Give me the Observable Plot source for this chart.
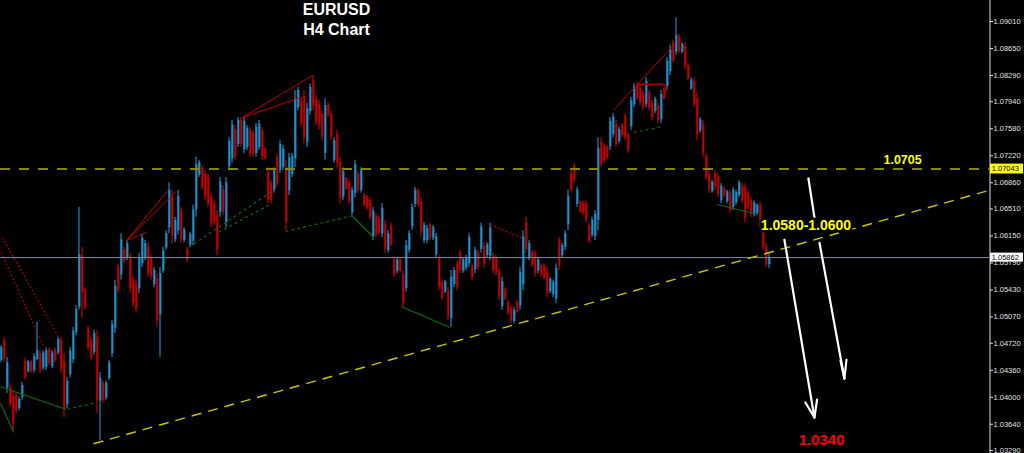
<!DOCTYPE html>
<html><head><meta charset="utf-8">
<script src="https://cdn.jsdelivr.net/npm/d3@7"></script>
<script src="https://cdn.jsdelivr.net/npm/@observablehq/plot@0.6"></script>
<style>html,body{margin:0;padding:0;background:#000;overflow:hidden}</style>
</head><body><div id="chart"></div>
<script>
// EURUSD H4 candles: [open, high, low, close]
const ohlc = [
[1.0449,1.0469,1.0446,1.0466],[1.0475,1.0480,1.0446,1.0451],[1.0412,1.0453,1.0405,1.0446],[1.0413,1.0418,1.0386,1.0391],
[1.0401,1.0409,1.0356,1.0364],[1.0402,1.0406,1.0378,1.0382],[1.0385,1.0400,1.0382,1.0397],[1.0400,1.0420,1.0396,1.0416],
[1.0448,1.0452,1.0422,1.0426],[1.0434,1.0449,1.0432,1.0447],[1.0447,1.0449,1.0432,1.0434],[1.0436,1.0458,1.0432,1.0454],
[1.0450,1.0500,1.0449,1.0462],[1.0458,1.0462,1.0432,1.0436],[1.0439,1.0462,1.0436,1.0459],[1.0440,1.0466,1.0436,1.0462],
[1.0463,1.0466,1.0442,1.0445],[1.0441,1.0462,1.0438,1.0459],[1.0463,1.0466,1.0446,1.0449],[1.0459,1.0480,1.0456,1.0477],
[1.0476,1.0480,1.0432,1.0437],[1.0448,1.0458,1.0373,1.0383],[1.0390,1.0426,1.0385,1.0421],[1.0430,1.0466,1.0426,1.0461],
[1.0450,1.0493,1.0445,1.0488],[1.0486,1.0522,1.0482,1.0517],[1.0520,1.0653,1.0516,1.0590],[1.0588,1.0600,1.0505,1.0540],
[1.0543,1.0546,1.0516,1.0520],[1.0490,1.0495,1.0462,1.0466],[1.0476,1.0480,1.0449,1.0453],[1.0460,1.0489,1.0456,1.0485],
[1.0480,1.0489,1.0378,1.0395],[1.0395,1.0433,1.0342,1.0425],[1.0418,1.0422,1.0392,1.0396],[1.0399,1.0422,1.0396,1.0419],
[1.0425,1.0449,1.0422,1.0446],[1.0458,1.0502,1.0453,1.0497],[1.0492,1.0556,1.0485,1.0548],[1.0574,1.0578,1.0538,1.0542],
[1.0563,1.0618,1.0556,1.0610],[1.0597,1.0600,1.0578,1.0581],[1.0586,1.0609,1.0582,1.0605],[1.0588,1.0592,1.0538,1.0545],
[1.0555,1.0560,1.0520,1.0525],[1.0550,1.0556,1.0512,1.0518],[1.0545,1.0592,1.0538,1.0586],[1.0578,1.0618,1.0573,1.0612],
[1.0586,1.0609,1.0582,1.0605],[1.0600,1.0606,1.0560,1.0565],[1.0585,1.0589,1.0556,1.0560],[1.0550,1.0573,1.0546,1.0569],
[1.0558,1.0565,1.0493,1.0502],[1.0510,1.0573,1.0453,1.0565],[1.0568,1.0600,1.0565,1.0595],[1.0599,1.0622,1.0596,1.0618],
[1.0626,1.0686,1.0618,1.0676],[1.0666,1.0676,1.0605,1.0615],[1.0610,1.0640,1.0606,1.0636],[1.0622,1.0676,1.0616,1.0668],
[1.0648,1.0653,1.0605,1.0610],[1.0609,1.0626,1.0606,1.0623],[1.0597,1.0600,1.0580,1.0583],[1.0603,1.0620,1.0600,1.0617],
[1.0608,1.0656,1.0602,1.0650],[1.0650,1.0720,1.0640,1.0710],[1.0696,1.0716,1.0693,1.0713],[1.0705,1.0709,1.0676,1.0680],
[1.0697,1.0702,1.0662,1.0667],[1.0693,1.0698,1.0653,1.0658],[1.0667,1.0672,1.0626,1.0631],[1.0658,1.0662,1.0629,1.0633],
[1.0642,1.0649,1.0589,1.0596],[1.0646,1.0693,1.0640,1.0687],[1.0677,1.0682,1.0642,1.0647],[1.0633,1.0693,1.0626,1.0686],
[1.0707,1.0746,1.0702,1.0741],[1.0718,1.0769,1.0712,1.0763],[1.0757,1.0762,1.0716,1.0721],[1.0737,1.0773,1.0733,1.0769],
[1.0769,1.0773,1.0733,1.0737],[1.0730,1.0773,1.0725,1.0768],[1.0733,1.0762,1.0729,1.0758],[1.0755,1.0760,1.0720,1.0725],
[1.0752,1.0756,1.0720,1.0724],[1.0725,1.0765,1.0720,1.0760],[1.0733,1.0769,1.0729,1.0764],[1.0755,1.0760,1.0716,1.0721],
[1.0731,1.0733,1.0716,1.0718],[1.0700,1.0706,1.0658,1.0663],[1.0685,1.0689,1.0658,1.0662],[1.0676,1.0706,1.0672,1.0702],
[1.0720,1.0725,1.0680,1.0685],[1.0703,1.0742,1.0698,1.0737],[1.0706,1.0736,1.0702,1.0731],[1.0706,1.0716,1.0622,1.0633],
[1.0675,1.0725,1.0669,1.0719],[1.0697,1.0725,1.0693,1.0721],[1.0718,1.0809,1.0706,1.0798],[1.0786,1.0813,1.0782,1.0809],
[1.0795,1.0800,1.0760,1.0765],[1.0801,1.0809,1.0738,1.0746],[1.0740,1.0792,1.0733,1.0785],[1.0781,1.0818,1.0776,1.0813],
[1.0822,1.0829,1.0782,1.0788],[1.0797,1.0802,1.0762,1.0767],[1.0790,1.0796,1.0756,1.0762],[1.0777,1.0782,1.0742,1.0747],
[1.0725,1.0798,1.0716,1.0789],[1.0790,1.0793,1.0773,1.0776],[1.0777,1.0782,1.0742,1.0747],[1.0716,1.0746,1.0712,1.0742],
[1.0750,1.0756,1.0706,1.0712],[1.0713,1.0720,1.0658,1.0665],[1.0667,1.0706,1.0662,1.0701],[1.0691,1.0693,1.0676,1.0678],
[1.0685,1.0689,1.0656,1.0660],[1.0646,1.0680,1.0642,1.0676],[1.0672,1.0716,1.0666,1.0710],[1.0698,1.0702,1.0672,1.0676],
[1.0676,1.0706,1.0672,1.0702],[1.0670,1.0672,1.0653,1.0656],[1.0666,1.0669,1.0649,1.0652],[1.0662,1.0666,1.0636,1.0640],
[1.0614,1.0653,1.0609,1.0648],[1.0641,1.0645,1.0613,1.0617],[1.0638,1.0642,1.0616,1.0619],[1.0618,1.0658,1.0613,1.0652],
[1.0631,1.0636,1.0592,1.0597],[1.0595,1.0622,1.0592,1.0618],[1.0628,1.0632,1.0600,1.0604],[1.0583,1.0586,1.0560,1.0563],
[1.0568,1.0586,1.0565,1.0583],[1.0583,1.0586,1.0565,1.0568],[1.0563,1.0569,1.0520,1.0526],[1.0545,1.0609,1.0540,1.0602],
[1.0596,1.0622,1.0592,1.0618],[1.0627,1.0658,1.0622,1.0653],[1.0657,1.0680,1.0653,1.0676],[1.0675,1.0678,1.0653,1.0656],
[1.0660,1.0666,1.0613,1.0620],[1.0609,1.0633,1.0605,1.0629],[1.0609,1.0629,1.0605,1.0625],[1.0629,1.0632,1.0609,1.0612],
[1.0612,1.0629,1.0609,1.0626],[1.0590,1.0618,1.0586,1.0614],[1.0584,1.0589,1.0542,1.0547],[1.0553,1.0556,1.0529,1.0532],
[1.0540,1.0556,1.0538,1.0554],[1.0541,1.0546,1.0502,1.0507],[1.0505,1.0569,1.0493,1.0560],[1.0550,1.0573,1.0546,1.0569],
[1.0577,1.0582,1.0542,1.0547],[1.0592,1.0596,1.0565,1.0569],[1.0568,1.0586,1.0565,1.0583],[1.0572,1.0589,1.0569,1.0586],
[1.0578,1.0618,1.0573,1.0613],[1.0575,1.0578,1.0556,1.0559],[1.0570,1.0600,1.0565,1.0596],[1.0592,1.0596,1.0569,1.0573],
[1.0597,1.0632,1.0592,1.0627],[1.0601,1.0606,1.0572,1.0577],[1.0589,1.0606,1.0586,1.0603],[1.0588,1.0632,1.0582,1.0626],
[1.0588,1.0592,1.0565,1.0569],[1.0585,1.0589,1.0562,1.0566],[1.0568,1.0573,1.0529,1.0534],[1.0521,1.0560,1.0516,1.0554],
[1.0544,1.0546,1.0529,1.0531],[1.0526,1.0529,1.0509,1.0512],[1.0518,1.0522,1.0498,1.0502],[1.0501,1.0520,1.0498,1.0516],
[1.0527,1.0529,1.0512,1.0514],[1.0522,1.0573,1.0516,1.0566],[1.0550,1.0622,1.0542,1.0614],[1.0633,1.0640,1.0592,1.0597],
[1.0586,1.0609,1.0582,1.0605],[1.0593,1.0596,1.0573,1.0576],[1.0591,1.0596,1.0560,1.0565],[1.0568,1.0586,1.0565,1.0583],
[1.0575,1.0578,1.0560,1.0563],[1.0575,1.0578,1.0556,1.0559],[1.0567,1.0573,1.0533,1.0538],[1.0541,1.0560,1.0538,1.0557],
[1.0537,1.0556,1.0533,1.0553],[1.0531,1.0578,1.0525,1.0572],[1.0608,1.0613,1.0569,1.0574],[1.0589,1.0605,1.0586,1.0602],
[1.0600,1.0622,1.0596,1.0618],[1.0630,1.0676,1.0622,1.0668],[1.0698,1.0702,1.0672,1.0676],[1.0708,1.0712,1.0685,1.0689],
[1.0657,1.0680,1.0653,1.0676],[1.0660,1.0662,1.0645,1.0647],[1.0659,1.0662,1.0642,1.0645],[1.0658,1.0662,1.0632,1.0636],
[1.0629,1.0632,1.0605,1.0608],[1.0616,1.0640,1.0613,1.0636],[1.0614,1.0649,1.0609,1.0644],[1.0636,1.0746,1.0622,1.0732],
[1.0740,1.0746,1.0706,1.0711],[1.0735,1.0738,1.0712,1.0715],[1.0733,1.0736,1.0716,1.0719],[1.0734,1.0773,1.0729,1.0768],
[1.0750,1.0778,1.0746,1.0774],[1.0764,1.0769,1.0733,1.0737],[1.0741,1.0760,1.0738,1.0757],[1.0762,1.0765,1.0746,1.0749],
[1.0774,1.0778,1.0742,1.0746],[1.0749,1.0752,1.0725,1.0729],[1.0761,1.0800,1.0756,1.0795],[1.0790,1.0818,1.0786,1.0814],
[1.0817,1.0820,1.0796,1.0799],[1.0812,1.0816,1.0789,1.0793],[1.0805,1.0809,1.0782,1.0786],[1.0791,1.0826,1.0786,1.0821],
[1.0805,1.0809,1.0782,1.0786],[1.0792,1.0796,1.0769,1.0773],[1.0781,1.0800,1.0778,1.0797],[1.0788,1.0792,1.0765,1.0769],
[1.0770,1.0809,1.0765,1.0804],[1.0811,1.0813,1.0796,1.0798],[1.0814,1.0853,1.0809,1.0848],[1.0834,1.0869,1.0829,1.0864],
[1.0872,1.0876,1.0845,1.0849],[1.0860,1.0906,1.0856,1.0882],[1.0880,1.0884,1.0858,1.0862],[1.0860,1.0873,1.0858,1.0870],
[1.0868,1.0873,1.0836,1.0842],[1.0842,1.0845,1.0822,1.0825],[1.0811,1.0826,1.0809,1.0823],[1.0821,1.0826,1.0786,1.0791],
[1.0798,1.0805,1.0742,1.0750],[1.0755,1.0773,1.0752,1.0770],[1.0764,1.0769,1.0720,1.0726],[1.0721,1.0725,1.0689,1.0693],
[1.0698,1.0702,1.0672,1.0676],[1.0674,1.0689,1.0672,1.0687],[1.0698,1.0702,1.0676,1.0680],[1.0694,1.0698,1.0666,1.0670],
[1.0662,1.0685,1.0658,1.0681],[1.0678,1.0680,1.0666,1.0668],[1.0661,1.0676,1.0658,1.0674],[1.0672,1.0676,1.0645,1.0649],
[1.0653,1.0680,1.0649,1.0676],[1.0659,1.0676,1.0656,1.0673],[1.0669,1.0689,1.0666,1.0686],[1.0681,1.0685,1.0658,1.0662],
[1.0679,1.0685,1.0632,1.0638],[1.0672,1.0676,1.0649,1.0653],[1.0662,1.0666,1.0640,1.0644],[1.0643,1.0662,1.0640,1.0659],
[1.0645,1.0658,1.0642,1.0656],[1.0656,1.0660,1.0626,1.0631],[1.0631,1.0636,1.0596,1.0600],[1.0600,1.0605,1.0573,1.0577],
[1.0577,1.0593,1.0572,1.0586]
];

// price-axis tick labels
const yTicks = [1.09010,1.08650,1.08290,1.07940,1.07580,1.07220,1.06860,1.06510,1.06150,1.05790,1.05430,1.05070,1.04720,1.04360,1.04000,1.03640,1.03290];

// horizontal levels
const resistanceLevel = 1.07043;
const currentPrice = 1.05862;

// trend / pattern lines: [barX1, price1, barX2, price2]
const trendLine = [[31, 1.0338, 329.7, 1.0676]];
const redLines = [
  [42, 1.0609, 55.7, 1.0675], [42, 1.0609, 58.7, 1.0675], [42, 1.0609, 48.6, 1.0620],
  [80.6, 1.0773, 104, 1.0829], [80.6, 1.0773, 100.3, 1.0800], [204.4, 1.0783, 225, 1.0872]
];
const redBox = [[212.3, 1.0812, 212.3, 1.0817], [212.3, 1.0817, 221.7, 1.0817], [221.7, 1.0817, 221.7, 1.0805]];
const redDotted = [[0.6, 1.0613, 19.4, 1.0480], [0.3, 1.0593, 14.4, 1.0467], [163.3, 1.0630, 174, 1.0612]];
const greenLines = [
  [0, 1.0414, 21.7, 1.0384], [0, 1.0392, 4.4, 1.0353], [117.2, 1.0642, 124.4, 1.0613],
  [133.6, 1.0521, 149.8, 1.0493], [238.9, 1.0657, 252.2, 1.0644]
];
const greenDotted = [
  [22.2, 1.0384, 32.2, 1.0393], [62.8, 1.0600, 90, 1.0673], [72.8, 1.0620, 90.7, 1.0659],
  [95, 1.0621, 117.2, 1.0642], [211.1, 1.0753, 220.6, 1.0761]
];
const arrows = [
  [261.3, 1.0610, 271.3, 1.0373], [268.3, 1.0393, 271.3, 1.0373], [272.2, 1.0397, 271.3, 1.0373],
  [269.3, 1.0692, 271.3, 1.0640], [273, 1.0606, 281.3, 1.0425], [280, 1.0449, 281.3, 1.0425], [282, 1.0450, 281.3, 1.0425]
];

// text annotations
const titles = [{t: "EURUSD", x: 112, y: 1.0917}, {t: "H4 Chart", x: 112, y: 1.08897}];
const yellowNotes = [{t: "1.0705", x: 300.7, y: 1.07163, s: 12.5}, {t: "1.0580-1.0600", x: 268.5, y: 1.06294, s: 14}];
const targetNote = [{t: "1.0340", x: 273.7, y: 1.03423}];

const bars = ohlc.map(([o, h, l, c], i) => ({i, o, h, l, c}));
const up = bars.filter(d => d.c >= d.o);
const down = bars.filter(d => d.c < d.o);
const xEnd = 989 / 3;
const seg = (arr, opts) => Plot.link(arr, {x1: d => d[0], y1: d => d[1], x2: d => d[2], y2: d => d[3], ...opts});

const chart = Plot.plot({
  width: 1024, height: 453,
  marginLeft: 0, marginRight: 35, marginTop: 0, marginBottom: 0,
  style: {background: "#000", color: "#e0e0e0", fontFamily: "'Liberation Sans', Arial, sans-serif"},
  x: {domain: [0, xEnd], axis: null},
  y: {domain: [1.0325, 1.0929], axis: null},
  marks: [
    Plot.ruleX(up, {x: "i", y1: "o", y2: "c", dx: 1, strokeWidth: 2, stroke: "#1c7cae"}),
    Plot.ruleX(down, {x: "i", y1: "o", y2: "c", dx: 1, strokeWidth: 2, stroke: "#a30000"}),
    Plot.ruleX(up, {x: "i", y1: "l", y2: "h", dx: 0.5, strokeWidth: 1, stroke: "#1ea6e8"}),
    Plot.ruleX(down, {x: "i", y1: "l", y2: "h", dx: 0.5, strokeWidth: 1, stroke: "#e80000"}),
    seg(redLines, {stroke: "#c00000", strokeWidth: 1}),
    seg(redBox, {stroke: "#9a0000", strokeWidth: 2}),
    seg(redDotted, {stroke: "#b00000", strokeWidth: 1.2, strokeDasharray: "2,2"}),
    seg(greenLines, {stroke: "#0b6e0b", strokeWidth: 1.2}),
    seg(greenDotted, {stroke: "#0b6a0b", strokeWidth: 1.2, strokeDasharray: "3,3"}),
    Plot.ruleY([resistanceLevel], {stroke: "#858500", strokeWidth: 2, strokeDasharray: "10,9"}),
    Plot.ruleY([currentPrice], {stroke: "#7d8ea6", strokeWidth: 1}),
    seg(trendLine, {stroke: "#c8c800", strokeWidth: 1.4, strokeDasharray: "10,7"}),
    seg(arrows, {stroke: "#ffffff", strokeWidth: 2.2, strokeLinecap: "round"}),
    Plot.text(titles, {x: "x", y: "y", text: "t", fill: "#ffffff", fontSize: 16, fontWeight: "bold", textAnchor: "middle"}),
    Plot.text(yellowNotes, {x: "x", y: "y", text: "t", fill: "#ffff00", fontSize: d => d.s, fontWeight: "bold", textAnchor: "middle", stroke: "#000", strokeWidth: 5}),
    Plot.text(targetNote, {x: "x", y: "y", text: "t", fill: "#ff0000", fontSize: 15, fontWeight: "bold", textAnchor: "middle"}),
    Plot.ruleX([xEnd], {dx: 0.5, stroke: "#e0e0e0", strokeWidth: 1}),
    Plot.axisY(yTicks, {anchor: "right", tickFormat: d3.format(".5f"), tickSize: 3, tickPadding: 1, fontSize: 7.5, color: "#e0e0e0"}),
    Plot.rect([resistanceLevel], {x1: 330, x2: 341, y1: d => d - 0.00066, y2: d => d + 0.00066, fill: "#ffff00"}),
    Plot.text([resistanceLevel], {x: 330.4, y: d => d, text: d => d3.format(".5f")(d), fill: "#000", fontSize: 7.5, textAnchor: "start"}),
    Plot.rect([currentPrice], {x1: 330, x2: 341, y1: d => d - 0.0006, y2: d => d + 0.0006, fill: "#ffffff"}),
    Plot.text([currentPrice], {x: 330.4, y: d => d, text: d => d3.format(".5f")(d), fill: "#000", fontSize: 7.5, textAnchor: "start"})
  ]
});
document.getElementById("chart").appendChild(chart);
</script></body></html>
